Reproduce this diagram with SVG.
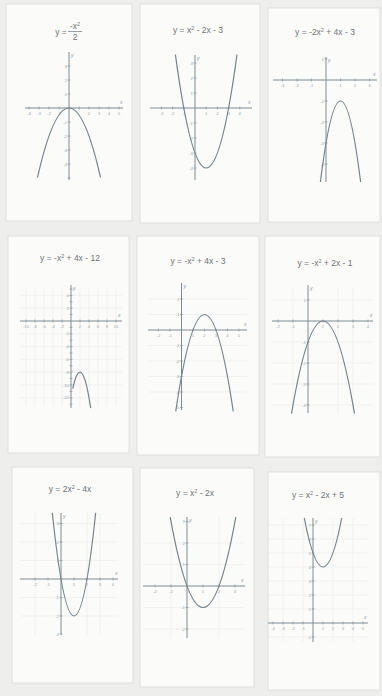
<svg xmlns="http://www.w3.org/2000/svg" width="382" height="696" viewBox="0 0 382 696">
<style>
.bg{fill:#eeeeec}
.panel{fill:#fbfbfa;stroke:#d9d9d7;stroke-width:0.8}
.title{font-family:"Liberation Sans",Arial,sans-serif;font-size:8.5px;fill:#707476;text-anchor:middle}
.axis{stroke:#7f8c91;stroke-width:1;fill:none}
.tick{stroke:#8a979b;stroke-width:0.7;fill:none}
.grid{stroke:#e9ebeb;stroke-width:0.6;fill:none}
.curve{stroke:#74858c;stroke-width:1.2;fill:none}
.lbl{font-family:"Liberation Sans",Arial,sans-serif;font-size:4.3px;fill:#9aa5a9}
.xl{text-anchor:middle}
.yl{text-anchor:end}
.axl{font-family:"Liberation Sans",Arial,sans-serif;font-size:5px;fill:#8a979b;font-style:italic}
</style>
<rect class="bg" x="0" y="0" width="382" height="696"/>

<g id="panel1">
<rect class="panel" x="6" y="4" width="126" height="217"/>
<text class="title" x="61" y="35">y =</text>
<text class="title" x="75" y="29">-x<tspan dy="-3" font-size="5.5">2</tspan></text>
<line x1="68" y1="31.5" x2="82" y2="31.5" stroke="#707476" stroke-width="0.7"/>
<text class="title" x="75" y="40">2</text>
<path class="axis" d="M25 108H123M69 52V180"/>
<path class="tick" d="M29 106.5v3M39 106.5v3M49 106.5v3M59 106.5v3M79 106.5v3M89 106.5v3M99 106.5v3M109 106.5v3M119 106.5v3M67.5 94h3M67.5 80h3M67.5 66h3M67.5 122h3M67.5 136h3M67.5 150h3M67.5 164h3M67.5 178h3"/>
<g class="lbl xl"><text x="29" y="115">-4</text><text x="39" y="115">-3</text><text x="49" y="115">-2</text><text x="59" y="115">-1</text><text x="89" y="115">2</text><text x="99" y="115">3</text><text x="109" y="115">4</text><text x="119" y="115">5</text></g>
<g class="lbl yl"><text x="67" y="95.5">1</text><text x="67" y="81.5">2</text><text x="67" y="67.5">3</text><text x="67" y="123.5">-1</text><text x="67" y="137.5">-2</text><text x="67" y="151.5">-3</text><text x="67" y="165.5">-4</text></g>
<text class="axl" x="120" y="104">x</text><text class="axl" x="71" y="57">y</text>
<path class="curve" d="M37.5 177.5Q69 38.5 100.5 177.5"/>
</g>

<g id="panel2">
<rect class="panel" x="140" y="4" width="120" height="219"/>
<text class="title" x="198" y="33">y = x<tspan dy="-3" font-size="5.5">2</tspan><tspan dy="3"> - 2x - 3</tspan></text>
<path class="axis" d="M150 108H252M195 55V180"/>
<path class="tick" d="M161.4 106.5v3M172.6 106.5v3M183.8 106.5v3M206.2 106.5v3M217.4 106.5v3M228.6 106.5v3M239.8 106.5v3M193.5 93h3M193.5 78h3M193.5 63h3M193.5 123h3M193.5 138h3M193.5 153h3M193.5 168h3"/>
<g class="lbl xl"><text x="161.4" y="115">-3</text><text x="172.6" y="115">-2</text><text x="183.8" y="115">-1</text><text x="206.2" y="115">1</text><text x="217.4" y="115">2</text><text x="228.6" y="115">3</text><text x="239.8" y="115">4</text></g>
<g class="lbl yl"><text x="193" y="94.5">1</text><text x="193" y="79.5">2</text><text x="193" y="64.5">3</text><text x="193" y="124.5">-1</text><text x="193" y="139.5">-2</text><text x="193" y="154.5">-3</text><text x="193" y="169.5">-4</text></g>
<text class="axl" x="248" y="104">x</text><text class="axl" x="197" y="60">y</text>
<path class="curve" d="M175.4 54.6Q206.2 281.4 237 54.6"/>
</g>

<g id="panel3">
<rect class="panel" x="268" y="8" width="112" height="214"/>
<text class="title" x="325" y="35">y = -2x<tspan dy="-3" font-size="5.5">2</tspan><tspan dy="3"> + 4x - 3</tspan></text>
<path class="axis" d="M273 80H377M326 57V182"/>
<path class="tick" d="M282.5 78.5v3M297 78.5v3M311.5 78.5v3M340.5 78.5v3M355 78.5v3M369.5 78.5v3M324.5 59h3M324.5 101h3M324.5 122h3M324.5 143h3M324.5 164h3"/>
<g class="lbl xl"><text x="282.5" y="87">-3</text><text x="297" y="87">-2</text><text x="311.5" y="87">-1</text><text x="340.5" y="87">1</text><text x="355" y="87">2</text><text x="369.5" y="87">3</text></g>
<g class="lbl yl"><text x="324" y="60.5">1</text><text x="324" y="102.5">-1</text><text x="324" y="123.5">-2</text><text x="324" y="144.5">-3</text><text x="324" y="165.5">-4</text></g>
<text class="axl" x="373" y="76">x</text><text class="axl" x="328" y="62">y</text>
<path class="curve" d="M320.4 182Q340.5 20 360.6 182"/>
</g>

<g id="panel4">
<rect class="panel" x="8" y="236" width="121" height="217"/>
<text class="title" x="70" y="261">y = -x<tspan dy="-3" font-size="5.5">2</tspan><tspan dy="3"> + 4x - 12</tspan></text>
<path class="grid" d="M20 295.4H122M20 308.2H122M20 333.8H122M20 346.6H122M20 359.4H122M20 372.2H122M20 385H122M20 397.8H122M26 287V406M35 287V406M44 287V406M53 287V406M62 287V406M80 287V406M89 287V406M98 287V406M107 287V406M116 287V406"/>
<path class="axis" d="M20 321H122M71 285V408"/>
<path class="tick" d="M26 319.5v3M35 319.5v3M44 319.5v3M53 319.5v3M62 319.5v3M80 319.5v3M89 319.5v3M98 319.5v3M107 319.5v3M116 319.5v3M69.5 314.6h3M69.5 308.2h3M69.5 301.8h3M69.5 295.4h3M69.5 289h3M69.5 327.4h3M69.5 333.8h3M69.5 340.2h3M69.5 346.6h3M69.5 353h3M69.5 359.4h3M69.5 365.8h3M69.5 372.2h3M69.5 378.6h3M69.5 385h3M69.5 391.4h3M69.5 397.8h3M69.5 404.2h3"/>
<g class="lbl xl"><text x="26" y="328">-10</text><text x="35" y="328">-8</text><text x="44" y="328">-6</text><text x="53" y="328">-4</text><text x="62" y="328">-2</text><text x="80" y="328">2</text><text x="89" y="328">4</text><text x="98" y="328">6</text><text x="107" y="328">8</text><text x="116" y="328">10</text></g>
<g class="lbl yl"><text x="69" y="296.9">4</text><text x="69" y="309.7">2</text><text x="69" y="335.3">-2</text><text x="69" y="348.1">-4</text><text x="69" y="360.9">-6</text><text x="69" y="373.7">-8</text><text x="69" y="386.5">-10</text><text x="69" y="399.3">-12</text></g>
<text class="axl" x="118" y="317">x</text><text class="axl" x="73" y="290">y</text>
<path class="curve" d="M72.8 388.6Q81.7 347.9 90.7 408.1"/>
</g>

<g id="panel5">
<rect class="panel" x="137" y="236" width="122" height="219"/>
<text class="title" x="198" y="264">y = -x<tspan dy="-3" font-size="5.5">2</tspan><tspan dy="3"> + 4x - 3</tspan></text>
<path class="grid" d="M148 299H247M148 314.5H247M148 345.5H247M148 361H247M148 376.5H247M148 392H247"/>
<path class="axis" d="M148 330H247M181.5 283V410"/>
<path class="tick" d="M158.5 328.5v3M170 328.5v3M193 328.5v3M204.5 328.5v3M216 328.5v3M227.5 328.5v3M239 328.5v3M180 314.5h3M180 299h3M180 345.5h3M180 361h3M180 376.5h3M180 392h3M180 407.5h3"/>
<g class="lbl xl"><text x="158.5" y="337">-2</text><text x="170" y="337">-1</text><text x="193" y="337">1</text><text x="204.5" y="337">2</text><text x="216" y="337">3</text><text x="227.5" y="337">4</text><text x="239" y="337">5</text></g>
<g class="lbl yl"><text x="179.5" y="316">1</text><text x="179.5" y="300.5">2</text><text x="179.5" y="347">-1</text><text x="179.5" y="362.5">-2</text><text x="179.5" y="378">-3</text><text x="179.5" y="393.5">-4</text><text x="179.5" y="409">-5</text></g>
<text class="axl" x="244" y="326">x</text><text class="axl" x="183.5" y="288">y</text>
<path class="curve" d="M175.75 411.4Q204.5 217.6 233.25 411.4"/>
</g>

<g id="panel6">
<rect class="panel" x="265" y="236" width="115" height="221"/>
<text class="title" x="325" y="266">y = -x<tspan dy="-3" font-size="5.5">2</tspan><tspan dy="3"> + 2x - 1</tspan></text>
<path class="grid" d="M272 300H373M272 342H373M272 363H373M272 384H373M272 405H373M293 287V413M338 287V413M353 287V413"/>
<path class="axis" d="M272 321H373M308 285V413"/>
<path class="tick" d="M278 319.5v3M293 319.5v3M323 319.5v3M338 319.5v3M353 319.5v3M368 319.5v3M306.5 300h3M306.5 342h3M306.5 363h3M306.5 384h3M306.5 405h3"/>
<g class="lbl xl"><text x="278" y="328">-2</text><text x="293" y="328">-1</text><text x="323" y="328">1</text><text x="338" y="328">2</text><text x="353" y="328">3</text><text x="368" y="328">4</text></g>
<g class="lbl yl"><text x="306" y="301.5">1</text><text x="306" y="343.5">-1</text><text x="306" y="364.5">-2</text><text x="306" y="385.5">-3</text><text x="306" y="406.5">-4</text></g>
<text class="axl" x="370" y="317">x</text><text class="axl" x="310" y="290">y</text>
<path class="curve" d="M291.5 413.6Q323 228.4 354.5 413.6"/>
</g>

<g id="panel7">
<rect class="panel" x="12" y="467" width="121" height="216"/>
<text class="title" x="70" y="492">y = 2x<tspan dy="-3" font-size="5.5">2</tspan><tspan dy="3"> - 4x</tspan></text>
<path class="grid" d="M20 523.5H118M20 542H118M20 560.5H118M20 597.5H118M20 616H118M35 513V635M87 513V635M100 513V635"/>
<path class="axis" d="M20 579H118M61 513V635"/>
<path class="tick" d="M35 577.5v3M48 577.5v3M74 577.5v3M87 577.5v3M100 577.5v3M113 577.5v3M59.5 560.5h3M59.5 542h3M59.5 523.5h3M59.5 597.5h3M59.5 616h3M59.5 634h3"/>
<g class="lbl xl"><text x="35" y="586">-2</text><text x="48" y="586">-1</text><text x="74" y="586">1</text><text x="87" y="586">2</text><text x="100" y="586">3</text><text x="113" y="586">4</text></g>
<g class="lbl yl"><text x="59" y="562">1</text><text x="59" y="543.5">2</text><text x="59" y="525">3</text><text x="59" y="599">-1</text><text x="59" y="617.5">-2</text><text x="59" y="635.5">-3</text></g>
<text class="axl" x="115" y="575">x</text><text class="axl" x="63" y="518">y</text>
<path class="curve" d="M52.3 512.8Q74 719.2 95.7 512.8"/>
</g>

<g id="panel8">
<rect class="panel" x="140" y="468" width="114" height="219"/>
<text class="title" x="195" y="496">y = x<tspan dy="-3" font-size="5.5">2</tspan><tspan dy="3"> - 2x</tspan></text>
<path class="grid" d="M143 543H245M143 564.5H245M143 607.5H245M143 629H245M171 517V638M219 517V638"/>
<path class="axis" d="M143 586H245M187 517V638"/>
<path class="tick" d="M155 584.5v3M171 584.5v3M203 584.5v3M219 584.5v3M235 584.5v3M185.5 564.5h3M185.5 543h3M185.5 521.5h3M185.5 607.5h3M185.5 629h3"/>
<g class="lbl xl"><text x="155" y="593">-2</text><text x="171" y="593">-1</text><text x="203" y="593">1</text><text x="219" y="593">2</text><text x="235" y="593">3</text></g>
<g class="lbl yl"><text x="185" y="566">1</text><text x="185" y="544.5">2</text><text x="185" y="523">3</text><text x="185" y="609">-1</text><text x="185" y="630.5">-2</text></g>
<text class="axl" x="241" y="582">x</text><text class="axl" x="189" y="522">y</text>
<path class="curve" d="M170.2 517.1Q203 697.9 235.8 517.1"/>
</g>

<g id="panel9">
<rect class="panel" x="268" y="472" width="112" height="218"/>
<text class="title" x="318" y="498">y = x<tspan dy="-3" font-size="5.5">2</tspan><tspan dy="3"> - 2x + 5</tspan></text>
<path class="grid" d="M268 525H368M268 539H368M268 553H368M268 567H368M268 581H368M268 595H368M268 609H368M268 637H368M283 518V642M303 518V642M333 518V642M353 518V642"/>
<path class="axis" d="M268 623H368M313 518V642"/>
<path class="tick" d="M273 621.5v3M283 621.5v3M293 621.5v3M303 621.5v3M323 621.5v3M333 621.5v3M343 621.5v3M353 621.5v3M363 621.5v3M311.5 609h3M311.5 595h3M311.5 581h3M311.5 567h3M311.5 553h3M311.5 539h3M311.5 525h3M311.5 637h3"/>
<g class="lbl xl"><text x="273" y="630">-4</text><text x="283" y="630">-3</text><text x="293" y="630">-2</text><text x="303" y="630">-1</text><text x="323" y="630">1</text><text x="333" y="630">2</text><text x="343" y="630">3</text><text x="353" y="630">4</text><text x="363" y="630">5</text></g>
<g class="lbl yl"><text x="311" y="610.5">1</text><text x="311" y="596.5">2</text><text x="311" y="582.5">3</text><text x="311" y="568.5">4</text><text x="311" y="554.5">5</text><text x="311" y="540.5">6</text><text x="311" y="526.5">7</text><text x="311" y="638.5">-1</text></g>
<text class="axl" x="364" y="619">x</text><text class="axl" x="315" y="523">y</text>
<path class="curve" d="M304.3 518Q323 616 341.7 518"/>
</g>
</svg>
